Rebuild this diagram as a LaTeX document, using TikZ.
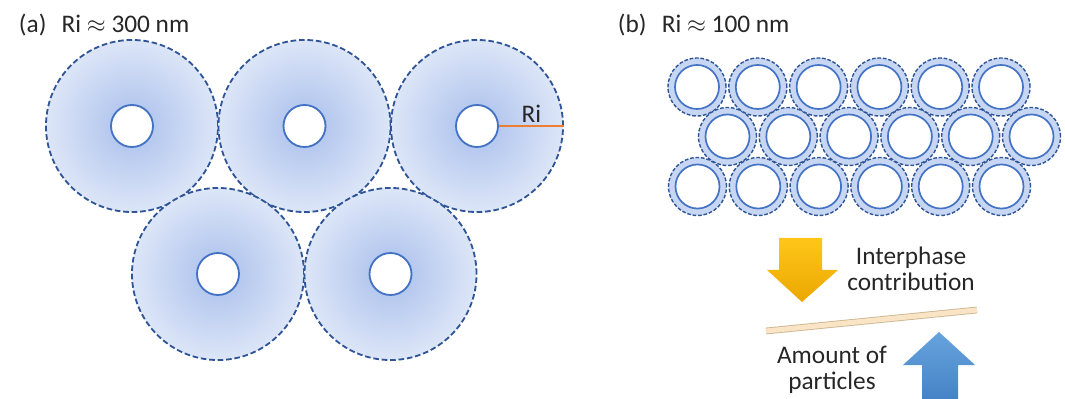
\documentclass[tikz,border=0pt]{standalone}
\usepackage{fontspec}
\setmainfont{Carlito}
\usepackage{xcolor}
\usepackage{tikz}
\usetikzlibrary{positioning, calc}

\definecolor{rimblue}{HTML}{2F5597}
\definecolor{coreblue}{HTML}{4472C4}
\definecolor{haloin}{HTML}{B5C8EE}
\definecolor{haloout}{HTML}{DDE6F8}
\definecolor{ringfill}{HTML}{C6D6F3}
\definecolor{riorange}{HTML}{ED7D31}
\definecolor{goldtop}{HTML}{FFC61A}
\definecolor{goldbot}{HTML}{EBA700}
\definecolor{bluetop}{HTML}{66A3DD}
\definecolor{bluebot}{HTML}{4683C6}
\definecolor{barfill}{HTML}{F9E5C6}
\definecolor{baredge}{HTML}{CDB48F}
\definecolor{inktext}{HTML}{262626}

\pgfdeclareradialshading{halo}{\pgfpoint{0bp}{0bp}}{color(0bp)=(haloin); color(6bp)=(haloin); color(25bp)=(haloout); color(50bp)=(haloout)}

\begin{document}
\begin{tikzpicture}[
  x=0.025cm, y=-0.025cm,
  every node/.style={font=\fontsize{18}{18.5}\selectfont, text=inktext},
  halo/.style={circle, draw=rimblue, dash pattern=on 4pt off 2pt, line width=1.3pt, shading=halo, minimum size=4.3cm, inner sep=0pt},
  hole/.style={circle, draw=coreblue, fill=white, line width=1.3pt, minimum size=1.05cm, inner sep=0pt},
  ring/.style={circle, draw=rimblue, dash pattern=on 2.6pt off 1.3pt, line width=1pt, fill=ringfill, minimum size=1.45cm, inner sep=0pt},
  core/.style={circle, draw=coreblue, fill=white, line width=1.2pt, minimum size=1.1cm, inner sep=0pt},
  balance/.style={draw=baredge, double=barfill, double distance=3.6pt, line width=0.6pt},
]
\useasboundingbox (0,0) rectangle (1065,399);

% Thick interphase (left)
\node[anchor=base west] (tita) at (14,33) {(a)\hspace{0.6em}Ri $\approx$ 300 nm};
\node[halo] (out1) at (132,126) {};
\node[halo] (out2) at (304.5,126) {};
\node[halo] (out3) at (477,126) {};
\node[halo] (out4) at (218,274) {};
\node[halo] (out5) at (390.5,274) {};
\node[hole] (hole1) at (out1) {};
\node[hole] (hole2) at (out2) {};
\node[hole] (hole3) at (out3) {};
\node[hole] (hole4) at (out4) {};
\node[hole] (hole5) at (out5) {};
\draw[riorange, line width=0.8pt] (hole3.east) -- node[above=2pt, inner sep=0pt] (rilab) {Ri} (out3.east);

% Thin interphase (right)
\node[anchor=base west] (titb) at (613,33) {(b)\hspace{0.6em}Ri $\approx$ 100 nm};
\foreach \i in {0,...,5} {
  \node[ring] (ra\i) at ({697+60.8*\i},87) {};
  \node[core] (ca\i) at (ra\i) {};
  \node[ring] (rb\i) at ({727.5+60.8*\i},136.5) {};
  \node[core] (cb\i) at (rb\i) {};
  \node[ring] (rc\i) at ({697.5+60.8*\i},186.5) {};
  \node[core] (cc\i) at (rc\i) {};
}

% Balance
\shade[top color=goldtop, bottom color=goldbot] (779,238) -- (822,238) -- (822,270) -- (838,270) -- (802,302) -- (767,270) -- (779,270) -- cycle;
\shade[top color=bluetop, bottom color=bluebot] (922,399) -- (922,365) -- (903,365) -- (939,332) -- (975,365) -- (958,365) -- (958,399) -- cycle;
\coordinate (barl) at (766,331);
\coordinate (barr) at (977,310);
\draw[balance] (barl) -- (barr);
\node[align=center] (inter) at (911,269) {Interphase\\contribution};
\node[align=center] (amount) at (832,370) {Amount of\\particles};
\end{tikzpicture}
\end{document}
